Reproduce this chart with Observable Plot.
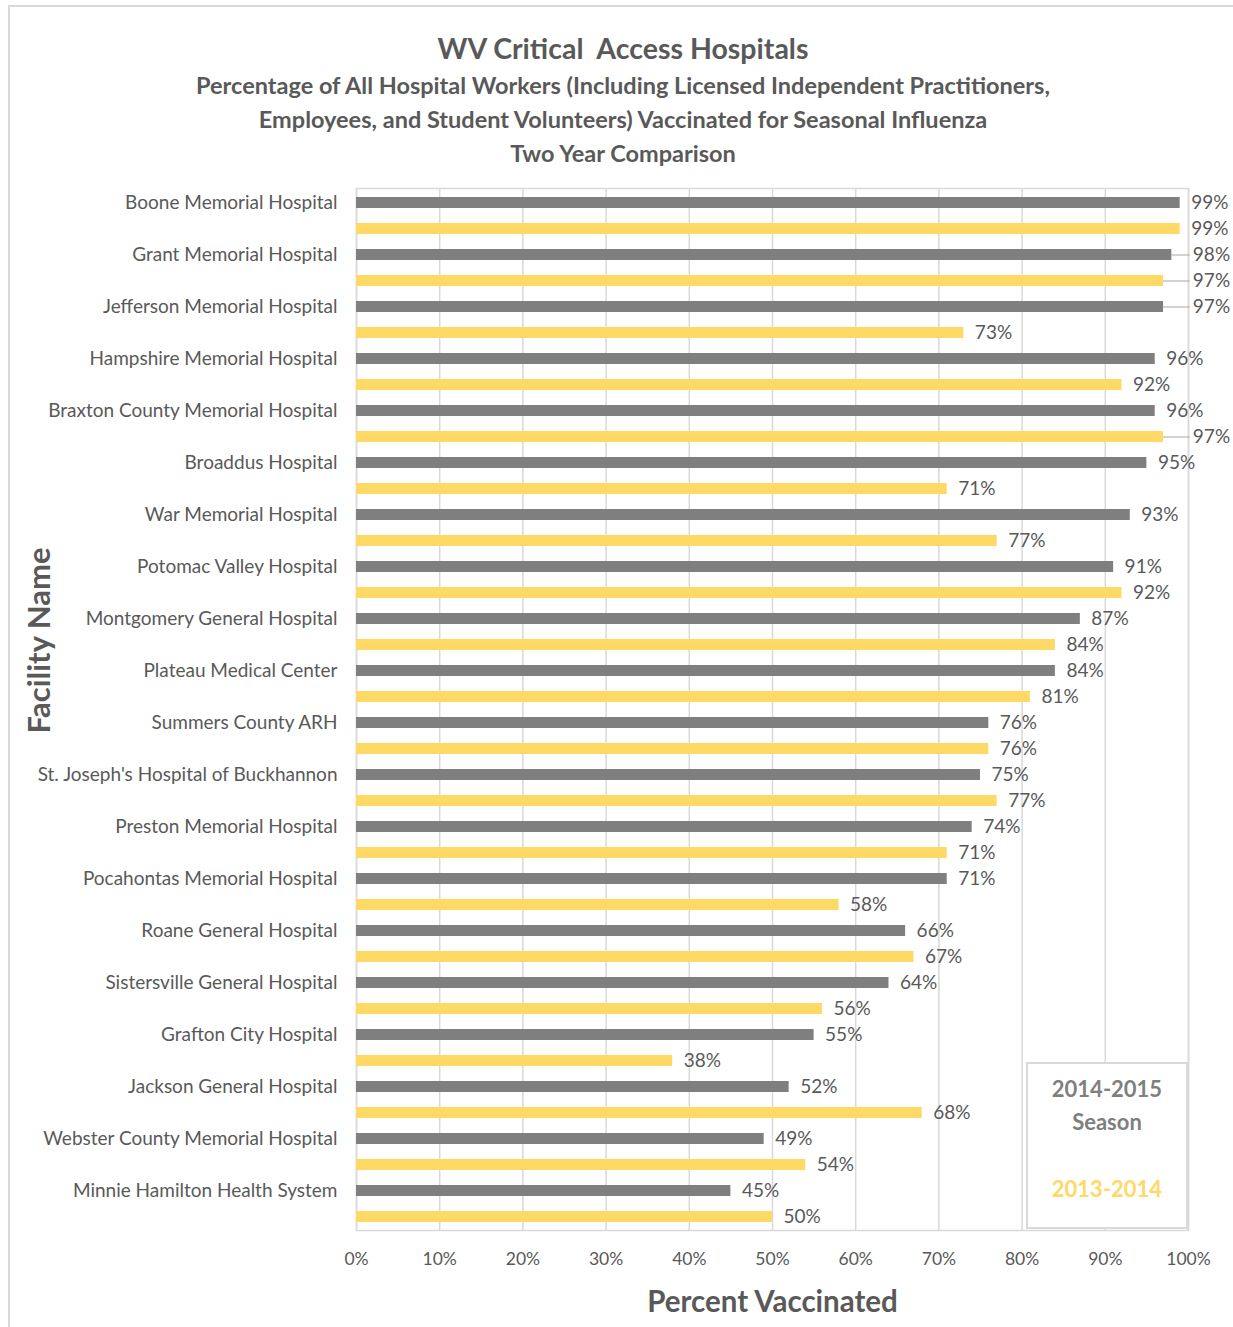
<!DOCTYPE html>
<html><head><meta charset="utf-8">
<script src="https://cdn.jsdelivr.net/npm/d3@7"></script>
<script src="https://cdn.jsdelivr.net/npm/@observablehq/plot@0.6"></script>
<style>
body{margin:0;background:#fff;overflow:hidden;font-family:Lato,"Open Sans",sans-serif;width:1233px;height:1327px;}
#border{position:absolute;left:8px;top:5px;width:1240px;height:1340px;border:2px solid #d9d9d9;box-sizing:border-box;}
#wrap{position:absolute;left:0;top:0;width:1233px;}
#title{position:relative;left:8px;width:1230px;height:170px;color:#595959;font-weight:bold;text-align:center;}
#title div{position:absolute;left:0;width:100%;white-space:nowrap;}
#legend{position:absolute;left:1026px;top:1062px;width:162px;height:167px;border:2px solid #d9d9d9;box-sizing:border-box;background:#fff;font-weight:bold;font-size:22px;text-align:center;}
#legend div{position:absolute;left:0;width:100%;line-height:26px;}
</style></head>
<body>
<div id="border"></div>
<div id="wrap">
  <div id="title">
    <div id="t1" style="top:30px;height:36px;line-height:36px;font-size:28.5px;"></div>
    <div id="t2" style="top:68px;height:34px;line-height:34px;font-size:23.5px;"></div>
    <div id="t3" style="top:102px;height:34px;line-height:34px;font-size:23.5px;"></div>
    <div id="t4" style="top:136px;height:34px;line-height:34px;font-size:23.5px;"></div>
  </div>
  <div id="chart"></div>
  <div id="legend">
    <div id="l1" style="top:12px;color:#7f7f7f;"></div>
    <div id="l2" style="top:45px;color:#7f7f7f;"></div>
    <div id="l3" style="top:112px;color:#ffd966;"></div>
  </div>
</div>
<script>
const titleLines = [
  "WV Critical\u00a0 Access Hospitals",
  "Percentage of All Hospital Workers (Including Licensed Independent Practitioners,",
  "Employees, and Student Volunteers) Vaccinated for Seasonal Influenza",
  "Two Year Comparison"
];
const hospitals = [
  "Boone Memorial Hospital",
  "Grant Memorial Hospital",
  "Jefferson Memorial Hospital",
  "Hampshire Memorial Hospital",
  "Braxton County Memorial Hospital",
  "Broaddus Hospital",
  "War Memorial Hospital",
  "Potomac Valley Hospital",
  "Montgomery General Hospital",
  "Plateau Medical Center",
  "Summers County ARH",
  "St. Joseph's Hospital of Buckhannon",
  "Preston Memorial Hospital",
  "Pocahontas Memorial Hospital",
  "Roane General Hospital",
  "Sistersville General Hospital",
  "Grafton City Hospital",
  "Jackson General Hospital",
  "Webster County Memorial Hospital",
  "Minnie Hamilton Health System"
];
const seasons = ["2014-2015", "2013-2014"];
const values2014_2015 = [99, 98, 97, 96, 96, 95, 93, 91, 87, 84, 76, 75, 74, 71, 66, 64, 55, 52, 49, 45];
const values2013_2014 = [99, 97, 73, 92, 97, 71, 77, 92, 84, 81, 76, 77, 71, 58, 67, 56, 38, 68, 54, 50];
const xTicks = [0, 10, 20, 30, 40, 50, 60, 70, 80, 90, 100];
const legendLines = ["2014-2015", "Season", "2013-2014"];
const xLabel = "Percent Vaccinated";
const yLabel = "Facility Name";

document.getElementById("t1").textContent = titleLines[0];
document.getElementById("t2").textContent = titleLines[1];
document.getElementById("t3").textContent = titleLines[2];
document.getElementById("t4").textContent = titleLines[3];
document.getElementById("l1").textContent = legendLines[0];
document.getElementById("l2").textContent = legendLines[1];
document.getElementById("l3").textContent = legendLines[2];

const rows = [];
hospitals.forEach((h, i) => {
  rows.push({key: h + "|a", name: h, season: seasons[0], v: values2014_2015[i]});
  rows.push({key: h + "|b", name: h, season: seasons[1], v: values2013_2014[i]});
});
const lead = d => d.v === 97 || d.v === 98;

const chart = Plot.plot({
  width: 1233,
  height: 1157,
  marginLeft: 356,
  marginRight: 45,
  marginTop: 18,
  marginBottom: 97,
  style: {fontFamily: "Lato, 'Open Sans', sans-serif", color: "#595959", background: "transparent"},
  x: {domain: [0, 100]},
  y: {domain: rows.map(d => d.key), paddingInner: 0.58, paddingOuter: 0.29},
  color: {domain: seasons, range: ["#7f7f7f", "#ffd966"]},
  marks: [
    Plot.gridX(xTicks, {stroke: "#d9d9d9", strokeOpacity: 1, strokeWidth: 1.5}),
    Plot.frame({stroke: "#d9d9d9", strokeWidth: 1.5}),
    Plot.barX(rows, {x: "v", y: "key", fill: "season"}),
    Plot.ruleY(rows.filter(lead), {x1: "v", x2: 100.2, y: "key", stroke: "#a6a6a6", strokeWidth: 1}),
    Plot.text(rows, {x: d => lead(d) ? 99.2 : d.v, y: "key", text: d => d.v + "%", textAnchor: "start", dx: 11, fontSize: 19, fill: "#595959"}),
    Plot.axisY({tickSize: 0, tickPadding: 19, fontSize: 19, tickFormat: k => k.endsWith("|a") ? k.slice(0, -2) : "", label: null}),
    Plot.axisX(xTicks, {tickSize: 0, tickPadding: 22, fontSize: 17.5, tickFormat: d => d + "%", label: null}),
    Plot.text([xLabel], {frameAnchor: "bottom", text: d => d, dy: 72, lineAnchor: "middle", textAnchor: "middle", fontSize: 29.5, fontWeight: "bold", fill: "#595959"}),
    Plot.text([yLabel], {frameAnchor: "left", text: d => d, dx: -316, dy: -69, rotate: -90, lineAnchor: "middle", textAnchor: "middle", fontSize: 31, fontWeight: "bold", fill: "#595959"})
  ]
});
document.getElementById("chart").appendChild(chart);
</script>
</body></html>
